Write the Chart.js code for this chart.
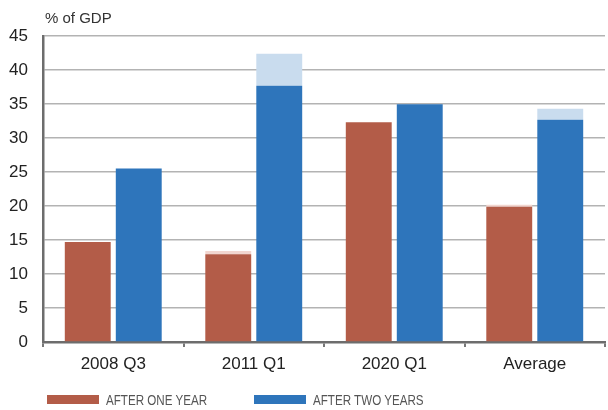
<!DOCTYPE html>
<html>
<head>
<meta charset="utf-8">
<script src="https://cdn.jsdelivr.net/npm/chart.js@4.4.0/dist/chart.umd.min.js"></script>
<style>
  html, body { margin: 0; padding: 0; background: #fff; }
  #wrap { position: relative; width: 608px; height: 410px; }
  #title { position: absolute; left: 45px; top: 9px; font: 15px "Liberation Sans", Arial, sans-serif; color: #333; }
  .leg { position: absolute; top: 392px; font: 14px "Liberation Sans", Arial, sans-serif; color: #555; white-space: nowrap; }
  .leg .box { display: inline-block; width: 52px; height: 9px; vertical-align: 1px; margin-right: 7px; }
  .leg .txt { display: inline-block; transform: scaleX(0.83); transform-origin: left center; }
</style>
</head>
<body>
<div id="wrap">
  <canvas id="chart" width="608" height="410"></canvas>
  <div id="title">% of GDP</div>
  <div class="leg" style="left:47px"><span class="box" style="background:#b35c48"></span><span class="txt">AFTER ONE YEAR</span></div>
  <div class="leg" style="left:254px"><span class="box" style="background:#2e75bb"></span><span class="txt">AFTER TWO YEARS</span></div>
</div>
<script>
const categories = ['2008 Q3', '2011 Q1', '2020 Q1', 'Average'];
const afterOneYear = [14.7, 12.9, 32.3, 19.9];
const afterOneYearExtra = [0, 0.5, 0, 0.3];
const afterTwoYears = [25.5, 37.7, 34.95, 32.7];
const afterTwoYearsExtra = [0, 4.7, 0, 1.6];
const yTicks = [0, 5, 10, 15, 20, 25, 30, 35, 40, 45];

const font = { family: '"Liberation Sans", Arial, sans-serif', size: 17 };

new Chart(document.getElementById('chart'), {
  type: 'bar',
  data: {
    labels: categories,
    datasets: [
      { data: afterOneYear, stack: 'one', backgroundColor: '#b35c48' },
      { data: afterOneYearExtra, stack: 'one', backgroundColor: '#f2d6d0' },
      { data: afterTwoYears, stack: 'two', backgroundColor: '#2e75bb' },
      { data: afterTwoYearsExtra, stack: 'two', backgroundColor: '#c9dcee' }
    ]
  },
  options: {
    responsive: false,
    animation: false,
    datasets: { bar: { barPercentage: 0.9, categoryPercentage: 0.726 } },
    layout: { padding: { top: 36, right: 3, left: 0, bottom: 0 } },
    plugins: { legend: { display: false }, tooltip: { enabled: false } },
    scales: {
      x: {
        stacked: true,
        grid: { drawOnChartArea: false, drawTicks: true, tickLength: 5, color: '#777', lineWidth: 2 },
        border: { color: '#6d6d6d', width: 2.5 },
        ticks: { color: '#222', font: font, padding: 7 },
        afterFit: (s) => { s.height = 68; }
      },
      y: {
        stacked: true,
        min: 0,
        max: 45,
        afterBuildTicks: (s) => { s.ticks = yTicks.map(v => ({ value: v })); },
        grid: { color: '#b3b3b3', lineWidth: 1.5, drawTicks: false },
        border: { color: '#6d6d6d', width: 2.5 },
        ticks: { color: '#222', font: font, padding: 15 },
        afterFit: (s) => { s.width = 43; }
      }
    }
  }
});
</script>
</body>
</html>
